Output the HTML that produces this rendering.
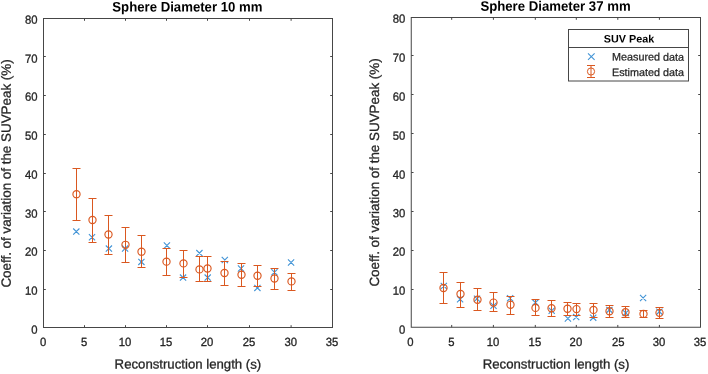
<!DOCTYPE html>
<html><head><meta charset="utf-8"><title>Chart</title>
<style>
html,body{margin:0;padding:0;background:#fff;width:708px;height:374px;overflow:hidden;}
svg{display:block;position:absolute;left:0;top:0;will-change:transform;}
text{font-family:"Liberation Sans",sans-serif;fill:#262626;}
.tk{font-size:11.3px;stroke:#262626;stroke-width:0.3px;}
.lb{font-size:13.2px;stroke:#262626;stroke-width:0.3px;}
.yl{font-size:13.4px;}
.ti{font-size:13.2px;font-weight:bold;fill:#000;}
.lg{font-size:10.8px;stroke:#262626;stroke-width:0.25px;}
.lt{font-size:10.8px;font-weight:bold;fill:#000;}
</style></head><body>
<svg width="708" height="374" viewBox="0 0 708 374">
<rect width="708" height="374" fill="#fff"/>
<rect x="43.5" y="18.5" width="289.00" height="309.00" fill="none" stroke="#464646" stroke-width="1"/>
<path d="M84.50 327.5v-2.3M84.50 18.5v2.3M125.50 327.5v-2.3M125.50 18.5v2.3M166.50 327.5v-2.3M166.50 18.5v2.3M207.50 327.5v-2.3M207.50 18.5v2.3M249.50 327.5v-2.3M249.50 18.5v2.3M291.10 327.5v-2.3M291.10 18.5v2.3M43.5 289.5h2.3M332.5 289.5h-2.3M43.5 250.5h2.3M332.5 250.5h-2.3M43.5 211.5h2.3M332.5 211.5h-2.3M43.5 173.5h2.3M332.5 173.5h-2.3M43.5 134.5h2.3M332.5 134.5h-2.3M43.5 95.5h2.3M332.5 95.5h-2.3M43.5 56.5h2.3M332.5 56.5h-2.3" stroke="#464646" stroke-width="1" fill="none"/>
<text transform="translate(43.10 345.9) rotate(0.03) scale(1 1.05)" text-anchor="middle" class="tk">0</text>
<text transform="translate(84.10 345.9) rotate(0.03) scale(1 1.05)" text-anchor="middle" class="tk">5</text>
<text transform="translate(125.10 345.9) rotate(0.03) scale(1 1.05)" text-anchor="middle" class="tk">10</text>
<text transform="translate(166.10 345.9) rotate(0.03) scale(1 1.05)" text-anchor="middle" class="tk">15</text>
<text transform="translate(207.10 345.9) rotate(0.03) scale(1 1.05)" text-anchor="middle" class="tk">20</text>
<text transform="translate(249.10 345.9) rotate(0.03) scale(1 1.05)" text-anchor="middle" class="tk">25</text>
<text transform="translate(290.70 345.9) rotate(0.03) scale(1 1.05)" text-anchor="middle" class="tk">30</text>
<text transform="translate(332.10 345.9) rotate(0.03) scale(1 1.05)" text-anchor="middle" class="tk">35</text>
<text transform="translate(37.60 333.75) rotate(0.03) scale(1 1.05)" text-anchor="end" class="tk">0</text>
<text transform="translate(37.60 294.75) rotate(0.03) scale(1 1.05)" text-anchor="end" class="tk">10</text>
<text transform="translate(37.60 255.65) rotate(0.03) scale(1 1.05)" text-anchor="end" class="tk">20</text>
<text transform="translate(37.60 217.65) rotate(0.03) scale(1 1.05)" text-anchor="end" class="tk">30</text>
<text transform="translate(37.60 178.65) rotate(0.03) scale(1 1.05)" text-anchor="end" class="tk">40</text>
<text transform="translate(37.60 139.65) rotate(0.03) scale(1 1.05)" text-anchor="end" class="tk">50</text>
<text transform="translate(37.60 100.65) rotate(0.03) scale(1 1.05)" text-anchor="end" class="tk">60</text>
<text transform="translate(37.60 62.65) rotate(0.03) scale(1 1.05)" text-anchor="end" class="tk">70</text>
<text transform="translate(37.60 23.65) rotate(0.03) scale(1 1.05)" text-anchor="end" class="tk">80</text>
<rect x="411.25" y="17.5" width="289.25" height="309.75" fill="none" stroke="#464646" stroke-width="1"/>
<path d="M451.70 327.25v-2.3M451.70 17.5v2.3M493.40 327.25v-2.3M493.40 17.5v2.3M535.30 327.25v-2.3M535.30 17.5v2.3M576.30 327.25v-2.3M576.30 17.5v2.3M617.80 327.25v-2.3M617.80 17.5v2.3M659.40 327.25v-2.3M659.40 17.5v2.3M411.25 289.5h2.3M700.5 289.5h-2.3M411.25 250.5h2.3M700.5 250.5h-2.3M411.25 211.5h2.3M700.5 211.5h-2.3M411.25 172.5h2.3M700.5 172.5h-2.3M411.25 133.5h2.3M700.5 133.5h-2.3M411.25 94.5h2.3M700.5 94.5h-2.3M411.25 55.5h2.3M700.5 55.5h-2.3" stroke="#464646" stroke-width="1" fill="none"/>
<text transform="translate(410.45 345.9) rotate(0.03) scale(1 1.05)" text-anchor="middle" class="tk">0</text>
<text transform="translate(451.30 345.9) rotate(0.03) scale(1 1.05)" text-anchor="middle" class="tk">5</text>
<text transform="translate(493.00 345.9) rotate(0.03) scale(1 1.05)" text-anchor="middle" class="tk">10</text>
<text transform="translate(534.90 345.9) rotate(0.03) scale(1 1.05)" text-anchor="middle" class="tk">15</text>
<text transform="translate(575.90 345.9) rotate(0.03) scale(1 1.05)" text-anchor="middle" class="tk">20</text>
<text transform="translate(618.20 345.9) rotate(0.03) scale(1 1.05)" text-anchor="middle" class="tk">25</text>
<text transform="translate(659.00 345.9) rotate(0.03) scale(1 1.05)" text-anchor="middle" class="tk">30</text>
<text transform="translate(700.10 345.9) rotate(0.03) scale(1 1.05)" text-anchor="middle" class="tk">35</text>
<text transform="translate(405.35 333.70) rotate(0.03) scale(1 1.05)" text-anchor="end" class="tk">0</text>
<text transform="translate(405.35 294.70) rotate(0.03) scale(1 1.05)" text-anchor="end" class="tk">10</text>
<text transform="translate(405.35 255.70) rotate(0.03) scale(1 1.05)" text-anchor="end" class="tk">20</text>
<text transform="translate(405.35 217.20) rotate(0.03) scale(1 1.05)" text-anchor="end" class="tk">30</text>
<text transform="translate(405.35 178.65) rotate(0.03) scale(1 1.05)" text-anchor="end" class="tk">40</text>
<text transform="translate(405.35 139.65) rotate(0.03) scale(1 1.05)" text-anchor="end" class="tk">50</text>
<text transform="translate(405.35 100.65) rotate(0.03) scale(1 1.05)" text-anchor="end" class="tk">60</text>
<text transform="translate(405.35 61.65) rotate(0.03) scale(1 1.05)" text-anchor="end" class="tk">70</text>
<text transform="translate(405.35 22.65) rotate(0.03) scale(1 1.05)" text-anchor="end" class="tk">80</text>
<path d="M73.20 228.50L79.40 234.70M73.20 234.70L79.40 228.50M88.90 234.10L95.10 240.30M88.90 240.30L95.10 234.10M105.80 245.50L112.00 251.70M105.80 251.70L112.00 245.50M122.00 245.50L128.20 251.70M122.00 251.70L128.20 245.50M138.30 258.80L144.50 265.00M138.30 265.00L144.50 258.80M163.80 242.40L170.00 248.60M163.80 248.60L170.00 242.40M179.95 274.50L186.15 280.70M179.95 280.70L186.15 274.50M196.30 250.00L202.50 256.20M196.30 256.20L202.50 250.00M204.60 274.50L210.80 280.70M204.60 280.70L210.80 274.50M221.70 256.90L227.90 263.10M221.70 263.10L227.90 256.90M237.90 265.40L244.10 271.60M237.90 271.60L244.10 265.40M254.30 284.80L260.50 291.00M254.30 291.00L260.50 284.80M271.35 269.20L277.55 275.40M271.35 275.40L277.55 269.20M287.96 259.40L294.16 265.60M287.96 265.60L294.16 259.40" stroke="#4294D6" stroke-width="1.1" fill="none"/>
<path d="M76.50 168.50V220.50M72.50 168.50h8.0M72.50 220.50h8.0M92.50 198.50V242.50M88.50 198.50h8.0M88.50 242.50h8.0M108.50 215.50V254.50M104.50 215.50h8.0M104.50 254.50h8.0M125.50 227.50V262.50M121.50 227.50h8.0M121.50 262.50h8.0M141.50 235.50V267.50M137.50 235.50h8.0M137.50 267.50h8.0M166.50 248.50V275.50M162.50 248.50h8.0M162.50 275.50h8.0M183.50 250.50V277.50M179.50 250.50h8.0M179.50 277.50h8.0M199.50 256.50V281.50M195.50 256.50h8.0M195.50 281.50h8.0M207.50 256.50V281.50M203.50 256.50h8.0M203.50 281.50h8.0M224.50 261.50V285.50M220.50 261.50h8.0M220.50 285.50h8.0M241.50 263.50V286.50M237.50 263.50h8.0M237.50 286.50h8.0M257.50 265.50V286.50M253.50 265.50h8.0M253.50 286.50h8.0M274.50 268.50V289.50M270.50 268.50h8.0M270.50 289.50h8.0M291.50 273.50V290.50M287.50 273.50h8.0M287.50 290.50h8.0" stroke="#DA5820" stroke-width="1.0" fill="none"/>
<circle cx="76.50" cy="194.20" r="3.6" stroke="#DA5820" stroke-width="1.15" fill="none"/>
<circle cx="92.50" cy="220.00" r="3.6" stroke="#DA5820" stroke-width="1.15" fill="none"/>
<circle cx="108.50" cy="234.50" r="3.6" stroke="#DA5820" stroke-width="1.15" fill="none"/>
<circle cx="125.50" cy="244.80" r="3.6" stroke="#DA5820" stroke-width="1.15" fill="none"/>
<circle cx="141.50" cy="251.70" r="3.6" stroke="#DA5820" stroke-width="1.15" fill="none"/>
<circle cx="166.50" cy="261.65" r="3.6" stroke="#DA5820" stroke-width="1.15" fill="none"/>
<circle cx="183.50" cy="263.40" r="3.6" stroke="#DA5820" stroke-width="1.15" fill="none"/>
<circle cx="199.50" cy="269.40" r="3.6" stroke="#DA5820" stroke-width="1.15" fill="none"/>
<circle cx="207.50" cy="268.50" r="3.6" stroke="#DA5820" stroke-width="1.15" fill="none"/>
<circle cx="224.50" cy="273.00" r="3.6" stroke="#DA5820" stroke-width="1.15" fill="none"/>
<circle cx="241.50" cy="274.80" r="3.6" stroke="#DA5820" stroke-width="1.15" fill="none"/>
<circle cx="257.50" cy="275.70" r="3.6" stroke="#DA5820" stroke-width="1.15" fill="none"/>
<circle cx="274.50" cy="278.50" r="3.6" stroke="#DA5820" stroke-width="1.15" fill="none"/>
<circle cx="291.50" cy="281.40" r="3.6" stroke="#DA5820" stroke-width="1.15" fill="none"/>
<path d="M440.70 282.90L446.90 289.10M440.70 289.10L446.90 282.90M457.00 296.20L463.20 302.40M457.00 302.40L463.20 296.20M473.90 295.70L480.10 301.90M473.90 301.90L480.10 295.70M490.40 302.60L496.60 308.80M490.40 308.80L496.60 302.60M507.00 295.20L513.20 301.40M507.00 301.40L513.20 295.20M532.30 299.50L538.50 305.70M532.30 305.70L538.50 299.50M548.60 307.70L554.80 313.90M548.60 313.90L554.80 307.70M564.80 315.40L571.00 321.60M564.80 321.60L571.00 315.40M573.10 314.00L579.30 320.20M573.10 320.20L579.30 314.00M590.10 314.55L596.30 320.75M590.10 320.75L596.30 314.55M606.30 306.80L612.50 313.00M606.30 313.00L612.50 306.80M622.65 309.80L628.85 316.00M622.65 316.00L628.85 309.80M640.00 294.90L646.20 301.10M640.00 301.10L646.20 294.90M656.30 308.55L662.50 314.75M656.30 314.75L662.50 308.55" stroke="#4294D6" stroke-width="1.1" fill="none"/>
<path d="M443.50 272.50V303.50M439.50 272.50h8.0M439.50 303.50h8.0M460.50 282.50V307.50M456.50 282.50h8.0M456.50 307.50h8.0M477.50 288.50V310.50M473.50 288.50h8.0M473.50 310.50h8.0M493.50 292.50V311.50M489.50 292.50h8.0M489.50 311.50h8.0M510.50 296.50V314.50M506.50 296.50h8.0M506.50 314.50h8.0M535.50 299.50V315.50M531.50 299.50h8.0M531.50 315.50h8.0M551.50 300.50V316.50M547.50 300.50h8.0M547.50 316.50h8.0M567.50 302.50V315.50M563.50 302.50h8.0M563.50 315.50h8.0M576.50 303.50V315.50M572.50 303.50h8.0M572.50 315.50h8.0M593.50 303.50V317.50M589.50 303.50h8.0M589.50 317.50h8.0M609.50 305.50V317.50M605.50 305.50h8.0M605.50 317.50h8.0M625.50 306.50V317.50M621.50 306.50h8.0M621.50 317.50h8.0M643.50 310.50V317.50M639.50 310.50h8.0M639.50 317.50h8.0M659.50 307.50V318.50M655.50 307.50h8.0M655.50 318.50h8.0" stroke="#DA5820" stroke-width="1.0" fill="none"/>
<circle cx="443.50" cy="288.00" r="3.6" stroke="#DA5820" stroke-width="1.15" fill="none"/>
<circle cx="460.50" cy="294.00" r="3.6" stroke="#DA5820" stroke-width="1.15" fill="none"/>
<circle cx="477.50" cy="299.70" r="3.6" stroke="#DA5820" stroke-width="1.15" fill="none"/>
<circle cx="493.50" cy="302.60" r="3.6" stroke="#DA5820" stroke-width="1.15" fill="none"/>
<circle cx="510.50" cy="304.80" r="3.6" stroke="#DA5820" stroke-width="1.15" fill="none"/>
<circle cx="535.50" cy="307.90" r="3.6" stroke="#DA5820" stroke-width="1.15" fill="none"/>
<circle cx="551.50" cy="308.20" r="3.6" stroke="#DA5820" stroke-width="1.15" fill="none"/>
<circle cx="567.50" cy="308.75" r="3.6" stroke="#DA5820" stroke-width="1.15" fill="none"/>
<circle cx="576.50" cy="309.10" r="3.6" stroke="#DA5820" stroke-width="1.15" fill="none"/>
<circle cx="593.50" cy="309.90" r="3.6" stroke="#DA5820" stroke-width="1.15" fill="none"/>
<circle cx="609.50" cy="311.20" r="3.6" stroke="#DA5820" stroke-width="1.15" fill="none"/>
<circle cx="625.50" cy="312.20" r="3.6" stroke="#DA5820" stroke-width="1.15" fill="none"/>
<circle cx="643.50" cy="313.90" r="3.6" stroke="#DA5820" stroke-width="1.15" fill="none"/>
<circle cx="659.50" cy="312.85" r="3.6" stroke="#DA5820" stroke-width="1.15" fill="none"/>
<text transform="translate(187.4 11.55) rotate(0.03) scale(1 1.04)" text-anchor="middle" class="ti">Sphere Diameter 10 mm</text>
<text transform="translate(555.5 10.8) rotate(0.03) scale(1 1.04)" text-anchor="middle" class="ti">Sphere Diameter 37 mm</text>
<text transform="translate(187.9 368.6) rotate(0.03)" text-anchor="middle" class="lb">Reconstruction length (s)</text>
<text transform="translate(556 368.6) rotate(0.03)" text-anchor="middle" class="lb">Reconstruction length (s)</text>
<text transform="translate(10.7 173.5) rotate(-89.97)" text-anchor="middle" class="lb yl">Coeff. of variation of the SUVPeak (%)</text>
<text transform="translate(379.0 172.5) rotate(-89.97)" text-anchor="middle" class="lb yl">Coeff. of variation of the SUVPeak (%)</text>
<rect x="568.5" y="29.5" width="120" height="51.5" fill="#fff" stroke="#464646" stroke-width="1"/>
<path d="M568.5 47.5H688.5" stroke="#464646" stroke-width="1"/>
<text transform="translate(629 42.5) rotate(0.03)" text-anchor="middle" class="lt">SUV Peak</text>
<text transform="translate(612 60.6) rotate(0.03)" class="lg">Measured data</text>
<text transform="translate(612 75.9) rotate(0.03)" class="lg">Estimated data</text>
<path d="M588.0 53.300000000000004L594.5999999999999 59.9M588.0 59.9L594.5999999999999 53.300000000000004" stroke="#4294D6" stroke-width="1.1" fill="none"/>
<path d="M591.0 65.5V77.5M587.0 65.5h8.0M587.0 77.5h8.0" stroke="#DA5820" stroke-width="1.0" fill="none"/>
<circle cx="591.0" cy="71.5" r="3.6" stroke="#DA5820" stroke-width="1.0" fill="none"/>
</svg>
</body></html>
